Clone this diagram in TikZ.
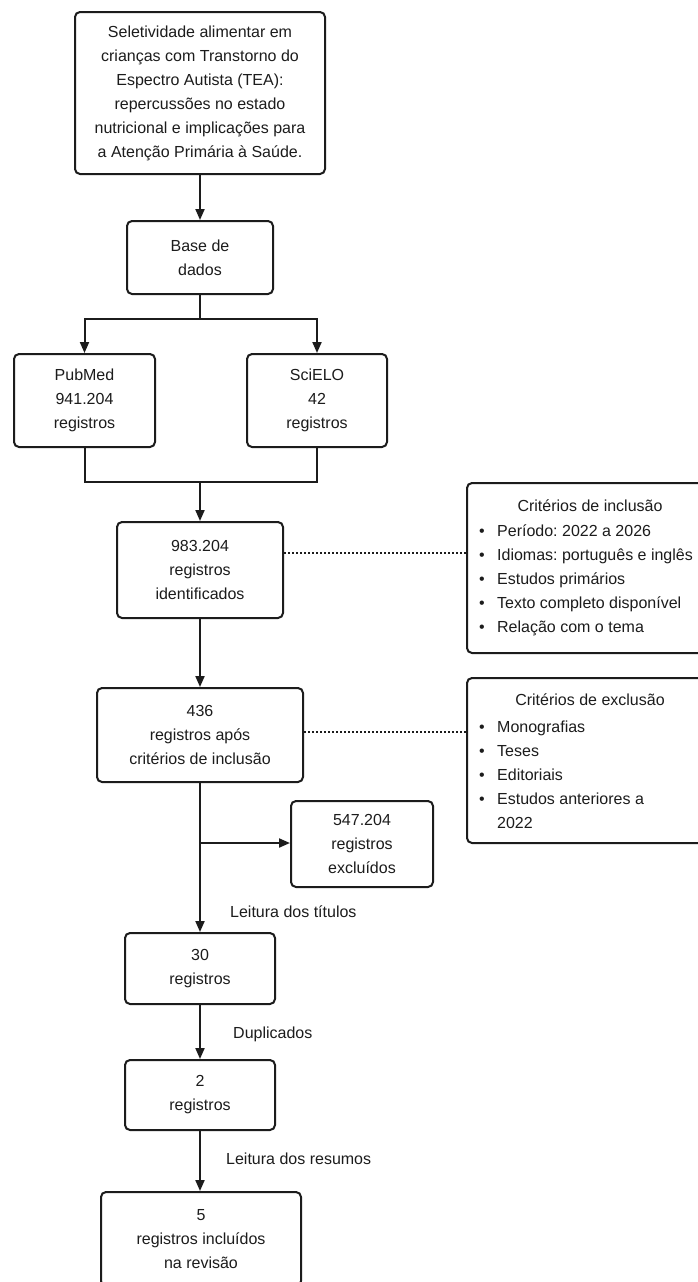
\documentclass[tikz,border=0pt]{standalone}
\usepackage{fontspec}
\setmainfont{Liberation Sans}
\usetikzlibrary{arrows.meta}
\definecolor{ink}{HTML}{1C1C1C}
\frenchspacing
\begin{document}
\begin{tikzpicture}[x=1pt,y=-1pt,
  every node/.style={text=ink,font=\fontsize{16}{24}\selectfont\frenchspacing},
  box/.style={draw=ink,line width=2pt,rounded corners=5pt,align=center,inner sep=0pt},
  arr/.style={draw=ink,line width=2pt,-{Triangle[length=11pt,width=9pt]}},
  ln/.style={draw=ink,line width=2pt},
  dots/.style={draw=ink,line width=1.6pt,dash pattern=on 2pt off 2pt},
  lbl/.style={anchor=base west,inner sep=0pt},
  item/.style={anchor=base west,inner sep=0pt}
]
\useasboundingbox (0,0) rectangle (698,1282);
\fill[white] (0,0) rectangle (698,1282);
\clip (0,0) rectangle (698,1282);

% main column
\node[box,minimum width=250pt,minimum height=162pt] (title) at (200,93)
  {Seletividade alimentar em\\crianças com Transtorno do\\Espectro Autista (TEA):\\repercussões no estado\\nutricional e implicações para\\a Atenção Primária à Saúde.};
\node[box,minimum width=146pt,minimum height=73pt] (base) at (200,257.5) {Base de\\dados};
\node[box,minimum width=141pt,minimum height=93pt] (pub) at (84.5,400.5) {PubMed\\941.204\\registros};
\node[box,minimum width=140pt,minimum height=93pt] (sci) at (317,400.5) {SciELO\\42\\registros};
\node[box,minimum width=166pt,minimum height=96pt] (ident) at (200,570) {983.204\\registros\\identificados};
\node[box,minimum width=206pt,minimum height=94pt] (apos) at (200,735) {436\\registros após\\critérios de inclusão};
\node[box,minimum width=142pt,minimum height=86pt] (excl) at (362,844) {547.204\\registros\\excluídos};
\node[box,minimum width=150pt,minimum height=71pt] (r30) at (200,968.5) {30\\registros};
\node[box,minimum width=150pt,minimum height=70pt] (r2) at (200,1095) {2\\registros};
\node[box,minimum width=200pt,minimum height=94pt] (r5) at (201,1239) {5\\registros incluídos\\na revisão};

% criteria boxes
\node[box,minimum width=246pt,minimum height=170pt] (cinc) at (590,568) {};
\node[box,minimum width=246pt,minimum height=165pt] (cexc) at (590,760.5) {};

\node[anchor=base,inner sep=0pt] (cinct) at (590,511) {Critérios de inclusão};
\node[item] (i1) at (479,536) {\makebox[18pt][l]{•}Período: 2022 a 2026};
\node[item] (i2) at (479,560) {\makebox[18pt][l]{•}Idiomas: português e inglês};
\node[item] (i3) at (479,584) {\makebox[18pt][l]{•}Estudos primários};
\node[item] (i4) at (479,608) {\makebox[18pt][l]{•}Texto completo disponível};
\node[item] (i5) at (479,632) {\makebox[18pt][l]{•}Relação com o tema};

\node[anchor=base,inner sep=0pt] (cexct) at (590,705) {Critérios de exclusão};
\node[item] (e1) at (479,732) {\makebox[18pt][l]{•}Monografias};
\node[item] (e2) at (479,756) {\makebox[18pt][l]{•}Teses};
\node[item] (e3) at (479,780) {\makebox[18pt][l]{•}Editoriais};
\node[item] (e4) at (479,804) {\makebox[18pt][l]{•}Estudos anteriores a};
\node[item] (e5) at (497,828) {2022};

% labels
\node[lbl] (l1) at (230,917) {Leitura dos títulos};
\node[lbl] (l2) at (233,1038) {Duplicados};
\node[lbl] (l3) at (226,1164) {Leitura dos resumos};

% coordinates
\coordinate (split) at (200,319);
\coordinate (merge) at (200,482);
\coordinate (branch) at (200,843);
\coordinate (d1) at (0,553);
\coordinate (d2) at (0,732);

% connectors
\draw[arr] (title) -- (base);
\draw[ln] (base.south) -- (split);
\draw[arr] (split) -| (pub.north);
\draw[arr] (split) -| (sci.north);
\draw[ln] (pub.south) |- (merge);
\draw[ln] (sci.south) |- (merge);
\draw[arr] (merge) -- (ident.north);
\draw[arr] (ident) -- (apos);
\draw[dots] (ident.east |- d1) -- (cinc.west |- d1);
\draw[dots] (apos.east |- d2) -- (cexc.west |- d2);
\draw[arr] (apos) -- (r30);
\draw[arr] (branch) -- (excl.west |- branch);
\draw[arr] (r30) -- (r2);
\draw[arr] (r2.south) -- (r2.south |- r5.north);
\end{tikzpicture}
\end{document}
